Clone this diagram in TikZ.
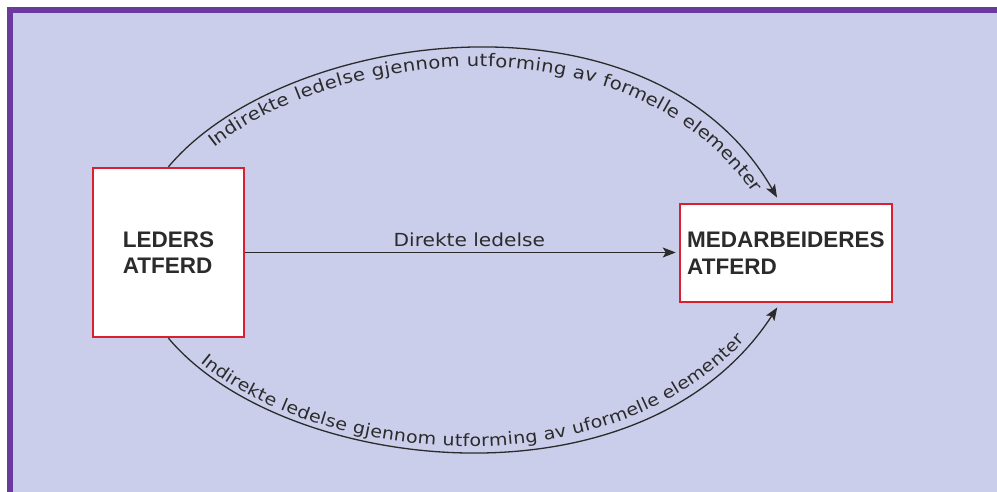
\documentclass[tikz,border=0pt]{standalone}
\usepackage{fontspec}
\setmainfont{DejaVu Sans}
\newfontfamily\labfont[FakeStretch=1.12]{DejaVu Sans}
\newfontfamily\boxfont{Liberation Sans}
\usetikzlibrary{decorations.text,arrows.meta}
\definecolor{bgc}{HTML}{CBCEEA}
\definecolor{bordc}{HTML}{6A3A9E}
\definecolor{boxred}{HTML}{D9202E}
\definecolor{ink}{HTML}{2B2B2B}
\begin{document}
\begin{tikzpicture}[x=1pt,y=1pt,
  box/.style={draw=boxred, line width=2.5pt, fill=white, inner sep=0pt,
    font=\boxfont\bfseries\fontsize{22.5}{26.5}\selectfont, text=ink, align=left},
  arr/.style={draw=ink, line width=1.3pt, -{Stealth[length=13pt,width=10pt,inset=3pt]}},
  lab/.style={font=\labfont\fontsize{18}{20}\selectfont, text=ink}
]
\useasboundingbox (0,0) rectangle (997,492);
\fill[white] (0,0) rectangle (997,492);
\fill[bgc] (10,0) rectangle (997,482);
\draw[bordc, line width=6pt] (10,0) -- (10,482) -- (997,482);

\node[box, minimum width=151pt, minimum height=169pt] (L) at (168.5,239.5) {LEDERS\\ATFERD};
\node[box, minimum width=212pt, minimum height=98pt] (R) at (786,239) {MEDARBEIDERES\\ATFERD};

\coordinate (Rt) at ([xshift=-6pt]R.north);
\coordinate (Rb) at ([xshift=-6pt]R.south);

\draw[arr, shorten >=3pt] (L.east) -- (L.east -| R.west)
  node[lab, pos=0.517, above, inner sep=2pt, yshift=3pt] (D) {Direkte ledelse};

% upper arc
\draw[arr, shorten >=6pt] (L.north) .. controls (285,464) and (652,513) .. (Rt);
\path[decorate, decoration={text along path, raise=-18pt,
   text align={fit to path, left indent=48pt, right indent=24pt},
   text={|\labfont\fontsize{17.5}{17.5}\selectfont\color{ink}|Indirekte ledelse gjennom utforming av formelle elementer}}]
  (L.north) .. controls (285,464) and (652,513) .. (Rt);

% lower arc
\draw[arr, shorten >=5pt] (L.south) .. controls (282.5,18) and (641.5,-24) .. (Rb);
\path[decorate, decoration={text along path, raise=5pt,
   text align={fit to path, left indent=40pt, right indent=52pt},
   text={|\labfont\fontsize{17}{17}\selectfont\color{ink}|Indirekte ledelse gjennom utforming av uformelle elementer}}]
  (L.south) .. controls (282.5,18) and (641.5,-24) .. (Rb);
\end{tikzpicture}
\end{document}
